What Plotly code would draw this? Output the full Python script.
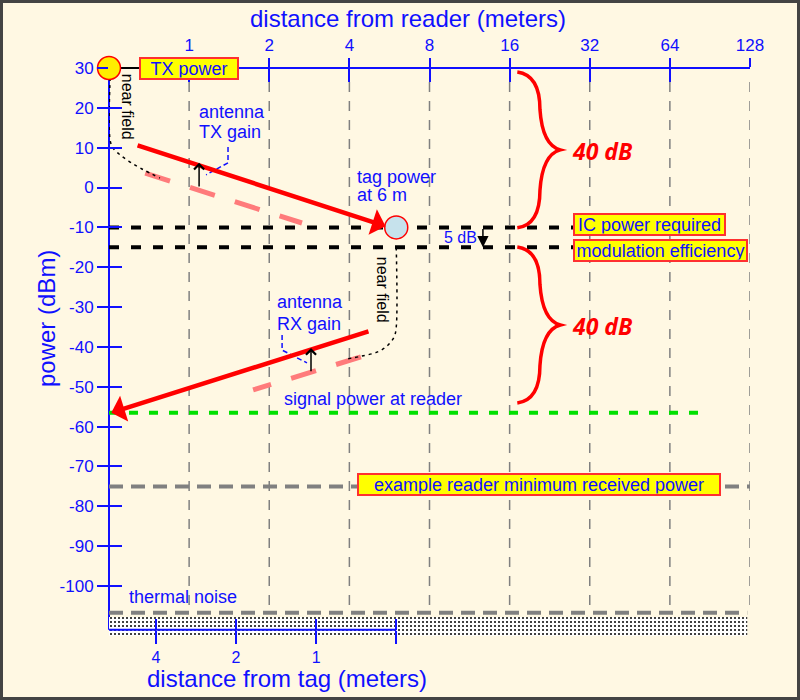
import numpy as np
import plotly.graph_objects as go

# ---------------- axis ticks ----------------
reader_ticks = [1, 2, 4, 8, 16, 32, 64, 128]           # distance from reader (m)
tag_ticks = [4, 2, 1, 0.5]                              # distance from tag (m)
tag_tick_text = ["4", "2", "1", ""]
power_ticks = list(range(30, -101, -10))                # dBm

# ---------------- power levels (dBm) ----------------
tx_power = 30
tag_distance = 6            # m
ic_power = -10
modulated_power = -15
reader_signal = -56.5
reader_min_power = -75
thermal_noise = -106.7
noise_band = [-107.8, -112.5]
brace_spans = [(29.0, -10.1), (-14.9, -54.1)]

# ---------------- forward link (reader -> tag) ----------------
tx_line_d = [0.632, 5.47]          # with antenna gain
tx_line_p = [10.7, -9.7]
tx_free_d = [0.684, 2.655]         # isotropic
tx_free_p = [3.6, -8.9]
tx_nf_d = [0.5049, 0.5049, 0.518, 0.550, 0.600, 0.665, 0.777]
tx_nf_p = [27.5, 11.9, 9.9, 8.2, 6.4, 4.65, 2.4]
tx_gain_d = 1.09
tx_gain_p = [-0.1, 6.2]
tx_lead_d = [1.40, 1.40, 1.158]
tx_lead_p = [10.2, 6.2, 3.2]

# ---------------- reverse link (tag -> reader) ----------------
rx_line_d = [4.78, 0.51]
rx_line_p = [-36.0, -56.5]
rx_free_d = [4.42, 1.739]
rx_free_p = [-42.5, -50.8]
rx_nf_d = [6, 6, 5.89, 5.54, 5.08, 4.46, 3.92]
rx_nf_p = [-15, -35.0, -37.5, -39.8, -41.3, -42.3, -43.0]
rx_gain_d = 2.87
rx_gain_p = [-46.5, -40.3]
rx_lead_d = [2.235, 2.235, 2.772]
rx_lead_p = [-37.0, -40.8, -44.0]

# ---------------- styling ----------------
BLUE = "#1010ff"
RED = "#ff0000"
PINK = "#ff7b7b"
GRAY = "#808080"
BG = "#fff8e3"
YEL = "#ffff00"
BOXRED = "#ff3030"
FONT = "Liberation Sans, Arial, sans-serif"

lx = np.log2
X0, X1 = lx(0.5), lx(128)
Y0, Y1 = -112.55, 30
Y_BOTTOM_AXIS = -111.0
XT = lx(tag_distance)
tag_origin = lx(0.5)
T_RANGE = [tag_origin + XT - X0, tag_origin + XT - X1]
bottom_pos = (Y_BOTTOM_AXIS - Y0) / (Y1 - Y0)

fig = go.Figure()

def line(x, y, color, width, dash=None, shape="linear", name=""):
    fig.add_trace(go.Scatter(x=x, y=y, mode="lines", name=name, showlegend=False,
                             hoverinfo="skip",
                             line=dict(color=color, width=width, dash=dash, shape=shape)))

# noise floor band (stippled)
bx = [X0, lx(125), lx(125), X0, X0]
by = [noise_band[0], noise_band[0], noise_band[1], noise_band[1], noise_band[0]]
fig.add_trace(go.Scatter(x=bx, y=by, mode="none", fill="toself", showlegend=False,
                         hoverinfo="skip", fillcolor="white",
                         fillpattern=dict(shape=".", fgcolor="black", bgcolor="white",
                                          size=4, solidity=0.2, fillmode="replace")))

# horizontal levels
line([X0, lx(125)], [thermal_noise] * 2, GRAY, 4, "14px,8px")
line([X0, lx(130)], [reader_min_power] * 2, GRAY, 4, "14px,8px")
line([X0, lx(87)], [reader_signal] * 2, "#00e000", 4, "9px,11px")
line([X0, lx(27.7)], [ic_power] * 2, "black", 4, "10px,12px")
line([X0, lx(27.7)], [modulated_power] * 2, "black", 4, "10px,12px")

# free-space (isotropic) lines
line(lx(tx_free_d), tx_free_p, PINK, 5, "26px,21px")
line(lx(rx_free_d), rx_free_p, PINK, 5, "26px,21px")

# near-field curves
line(lx(tx_nf_d), tx_nf_p, "black", 1.5, "3px,4px", "spline")
line(lx(rx_nf_d), rx_nf_p, "black", 1.5, "3px,4px", "spline")

# leaders
line(lx(tx_lead_d), tx_lead_p, BLUE, 1.5, "5px,3px")
line(lx(rx_lead_d), rx_lead_p, BLUE, 1.5, "5px,3px")

# reader and tag markers
fig.add_trace(go.Scatter(x=[X0], y=[tx_power], mode="markers", cliponaxis=False,
                         showlegend=False, hoverinfo="skip",
                         marker=dict(size=23, color="#ffee00", line=dict(color=RED, width=1.5))))
fig.add_trace(go.Scatter(x=[XT], y=[ic_power], mode="markers", cliponaxis=False,
                         showlegend=False, hoverinfo="skip",
                         marker=dict(size=23, color="#c6e2ec", line=dict(color=RED, width=1.5))))

# dummy traces for overlay axes
for xa, ya in [("x2", "y"), ("x3", "y"), ("x4", "y"), ("x", "y2")]:
    fig.add_trace(go.Scatter(x=[None], y=[None], xaxis=xa, yaxis=ya, showlegend=False,
                             hoverinfo="skip"))

# ---------------- shapes ----------------
shapes = []
for d in reader_ticks:
    shapes.append(dict(type="line", xref="x", yref="y", x0=lx(d), x1=lx(d), y0=26.5,
                       y1=thermal_noise + 0.8, layer="below",
                       line=dict(color=GRAY, width=1.5, dash="10px,9px")))
# axis lines
shapes.append(dict(type="line", xref="x", yref="paper", x0=X0, x1=X1, y0=1, y1=1,
                   layer="below", line=dict(color=BLUE, width=2)))
shapes.append(dict(type="line", xref="paper", yref="y", x0=0, x1=0, y0=Y1, y1=Y_BOTTOM_AXIS,
                   layer="below", line=dict(color=BLUE, width=2)))
shapes.append(dict(type="line", xref="x", yref="y", x0=X0, x1=XT, y0=Y_BOTTOM_AXIS,
                   y1=Y_BOTTOM_AXIS, line=dict(color=BLUE, width=2)))
# connector reader -> TX power box
shapes.append(dict(type="line", xref="x", yref="paper", x0=X0, x1=lx(1), y0=1, y1=1,
                   layer="below", line=dict(color="black", width=2)))

# braces
xl, xa_, xt_ = lx(17.1), lx(20.8), lx(24.8)
for top, bot in brace_spans:
    f = lambda t: top - t * (top - bot)
    p = (f"M{xl},{f(0)} Q{xa_},{f(0.02)} {xa_},{f(0.24)} "
         f"Q{xa_ + 0.03},{f(0.47)} {xt_},{f(0.5)} "
         f"Q{xa_ + 0.03},{f(0.53)} {xa_},{f(0.76)} "
         f"Q{xa_},{f(0.98)} {xl},{f(1)}")
    shapes.append(dict(type="path", xref="x", yref="y", path=p,
                       line=dict(color=RED, width=3.5)))

# outer frame
shapes.append(dict(type="rect", xref="paper", yref="paper",
                   x0=(1.5 - 109) / 641, x1=(798.5 - 109) / 641,
                   y0=(636 - 698.5) / 568, y1=(636 - 1.5) / 568,
                   line=dict(color="#444444", width=3)))

# ---------------- annotations ----------------
ann = []

def label(x, y, text, size=18, color=BLUE, xanchor="left", **kw):
    ann.append(dict(x=x, y=y, xref="x", yref="y", text=text, showarrow=False,
                    font=dict(family=FONT, size=size, color=color),
                    xanchor=xanchor, yanchor="middle", **kw))

def boxed(x, y, text, width, xanchor="left"):
    label(x, y, text, xanchor=xanchor, bgcolor=YEL, bordercolor=BOXRED, borderwidth=2,
          borderpad=0.5, width=width, height=18)

boxed(lx(1), tx_power, "TX power", 95, xanchor="center")
boxed(4.79, -9.2, "IC power required", 148)
boxed(4.79, -15.8, "modulation efficiency", 170)
boxed(2.097, -74.5, "example reader minimum received power", 359)

label(0.10, 18.96, "antenna")
label(0.10, 13.94, "TX gain")
label(2.072, 2.65, "tag power")
label(2.072, -1.87, "at 6 m")
label(1.073, -28.7, "antenna")
label(1.073, -34.24, "RX gain")
label(1.161, -53.06, "signal power at reader")
label(-0.774, -102.75, "thermal noise")
label(3.158, -12.66, "5 dB", size=16)
label(-0.76, 20.2, "near field", size=16, color="black", xanchor="center", textangle=90)
label(2.409, -25.7, "near field", size=16, color="black", xanchor="center", textangle=90)
for top, bot in brace_spans:
    ann.append(dict(x=4.755, y=(top + bot) / 2 - 0.2, xref="x", yref="y",
                    text="<b><i>40 dB</i></b>", showarrow=False, xanchor="left",
                    yanchor="middle", font=dict(family="Open Sans, sans-serif", size=23,
                                                color=RED)))

def arrow(x, y, ax, ay, color, width, head, size):
    ann.append(dict(x=x, y=y, ax=ax, ay=ay, xref="x", yref="y", axref="x", ayref="y",
                    text="", showarrow=True, arrowhead=head, arrowsize=size,
                    arrowwidth=width, arrowcolor=color))

arrow(lx(tx_line_d[1]), tx_line_p[1], lx(tx_line_d[0]), tx_line_p[0], RED, 4.5, 1, 1)
arrow(lx(rx_line_d[1]), rx_line_p[1], lx(rx_line_d[0]), rx_line_p[0], RED, 4.5, 1, 1)
arrow(lx(tx_gain_d), tx_gain_p[1], lx(tx_gain_d), tx_gain_p[0], "black", 1.5, 4, 1.3)
arrow(lx(rx_gain_d), rx_gain_p[1], lx(rx_gain_d), rx_gain_p[0], "black", 1.5, 4, 1.3)
arrow(lx(12.7), modulated_power, lx(12.7), ic_power, "black", 1.5, 2, 1.5)

# axis titles
tfont = dict(family=FONT, size=24, color=BLUE)
title_kw = dict(xref="paper", yref="paper", showarrow=False, font=tfont,
                xanchor="center", yanchor="middle")
ann.append(dict(x=(408 - 109) / 641, y=(636 - 18) / 568,
                text="distance from reader (meters)", **title_kw))
ann.append(dict(x=(287 - 109) / 641, y=(636 - 678) / 568,
                text="distance from tag (meters)", **title_kw))
ann.append(dict(x=(46 - 109) / 641, y=(636 - 319) / 568,
                text="power (dBm)", textangle=-90, **title_kw))

tickfont = dict(family=FONT, size=17, color=BLUE)
common = dict(showgrid=False, zeroline=False, showline=False, tickcolor=BLUE, tickwidth=2)

fig.update_layout(
    width=800, height=700, autosize=False,
    margin=dict(l=109, r=50, t=68, b=64, pad=0),
    paper_bgcolor=BG, plot_bgcolor=BG,
    showlegend=False, hovermode=False,
    shapes=shapes, annotations=ann,
    xaxis=dict(range=[X0, X1], side="top", anchor="y", tickmode="array",
               tickvals=lx(reader_ticks), ticktext=[str(v) for v in reader_ticks],
               ticks="outside", ticklen=9, tickfont=tickfont, **common),
    xaxis3=dict(range=[X0, X1], matches="x", overlaying="x", side="top", anchor="y",
                tickmode="array", tickvals=lx(reader_ticks), ticks="inside", ticklen=14,
                showticklabels=False, **common),
    xaxis2=dict(range=T_RANGE, overlaying="x", side="bottom", anchor="free",
                position=bottom_pos, tickmode="array", tickvals=lx(tag_ticks),
                ticktext=tag_tick_text, ticks="outside", ticklen=13,
                tickfont=dict(family=FONT, size=16, color=BLUE), **common),
    xaxis4=dict(range=T_RANGE, overlaying="x", side="bottom", anchor="free",
                position=bottom_pos, tickmode="array", tickvals=lx(tag_ticks),
                ticks="inside", ticklen=11, showticklabels=False, **common),
    yaxis=dict(range=[Y0, Y1], anchor="x", tickmode="array", tickvals=power_ticks,
               ticktext=[str(v) for v in power_ticks], ticks="outside", ticklen=11,
               tickfont=tickfont, **common),
    yaxis2=dict(range=[Y0, Y1], matches="y", overlaying="y", side="left", anchor="x",
                tickmode="array", tickvals=power_ticks, ticks="inside", ticklen=13,
                showticklabels=False, **common),
)

fig.write_html("out.html")
